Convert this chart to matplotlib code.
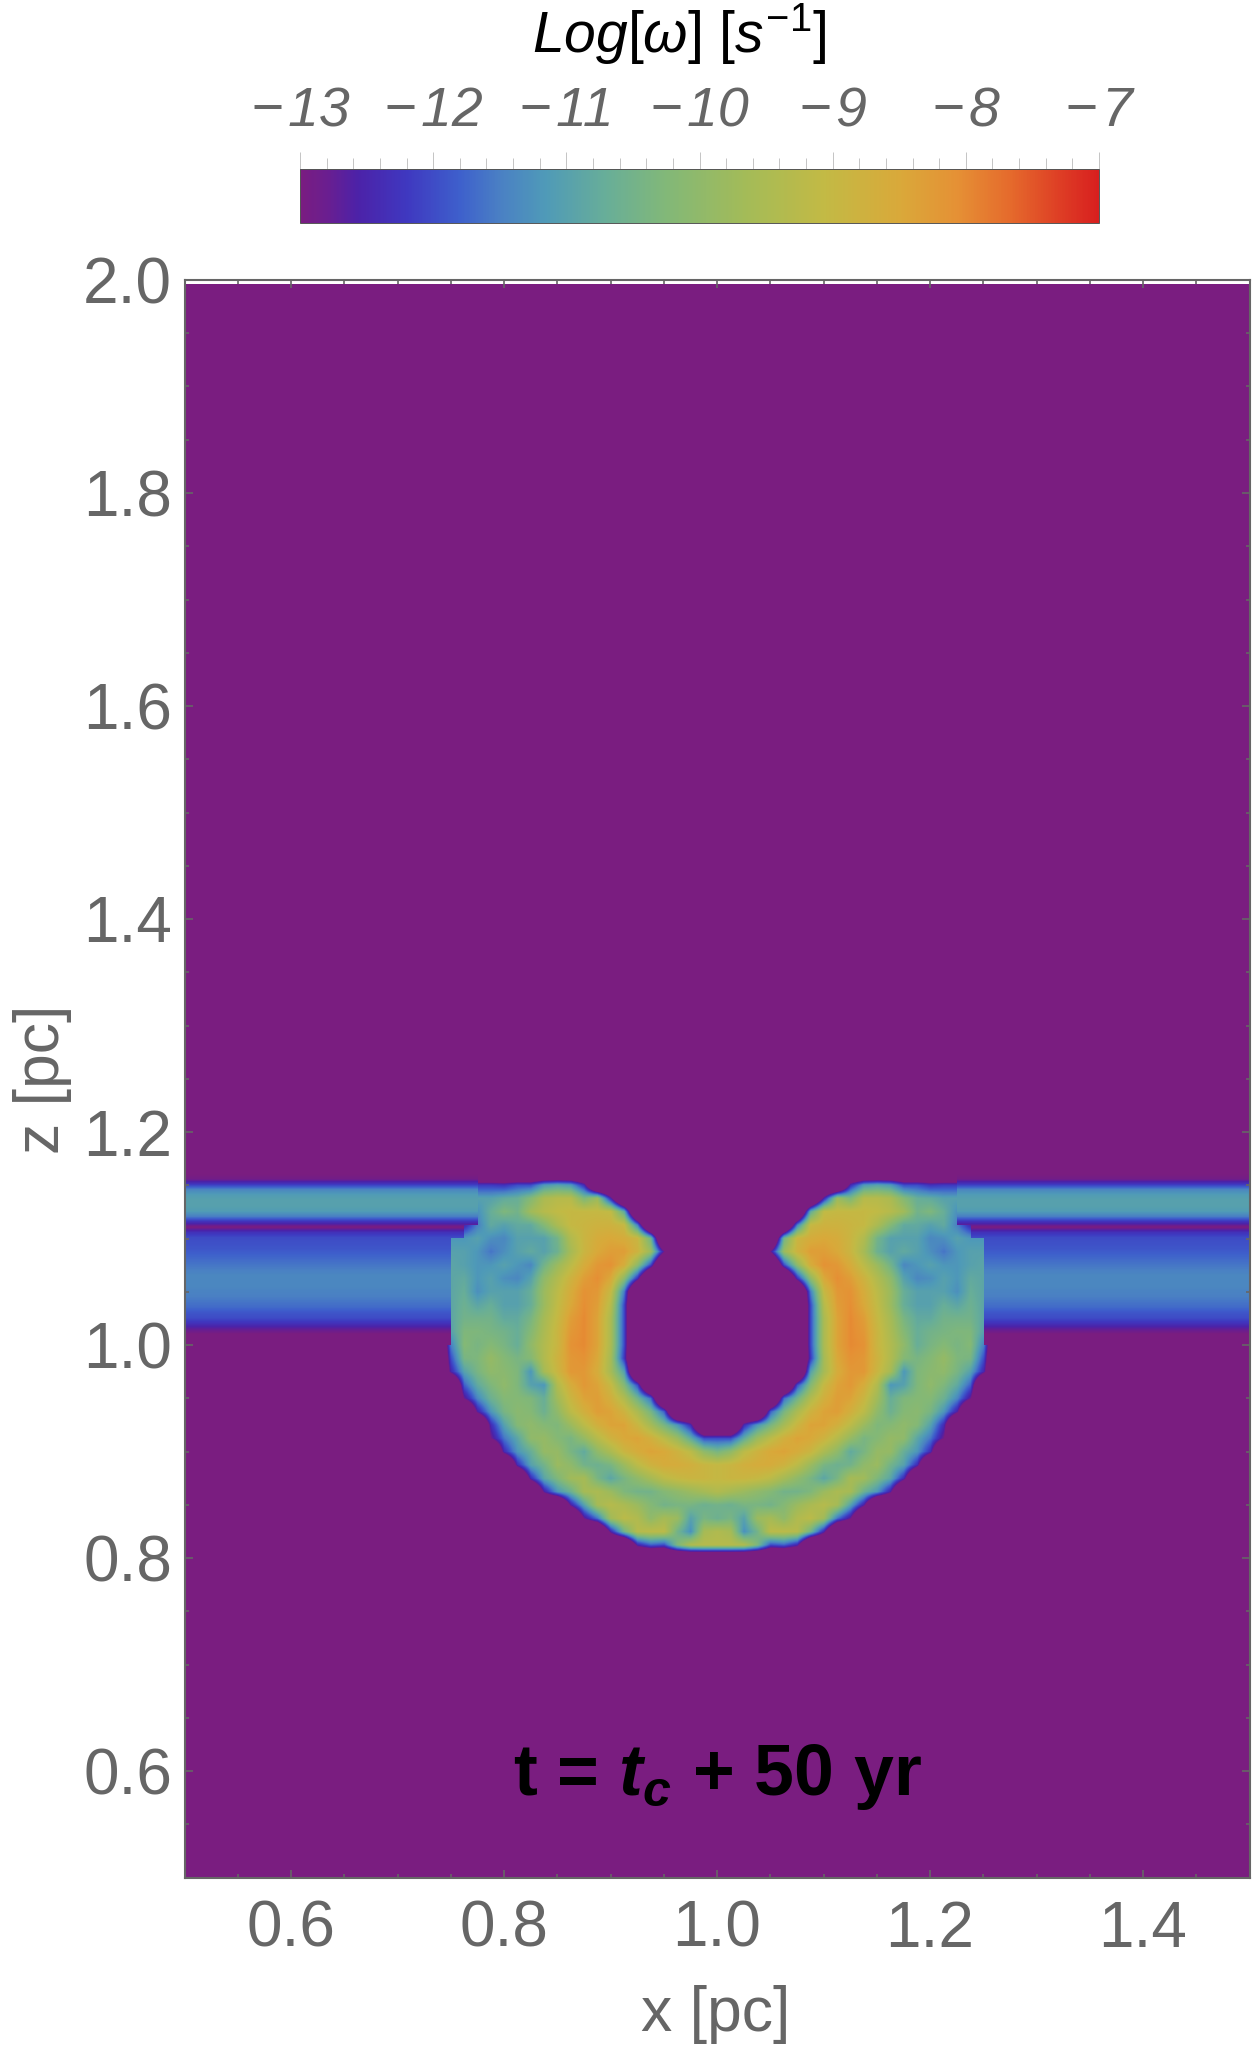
import numpy as np
from matplotlib import pyplot as plt
from matplotlib.colors import LinearSegmentedColormap
from matplotlib.ticker import MultipleLocator, FixedLocator

plt.rcParams['font.family'] = ['Liberation Sans', 'DejaVu Sans']
plt.rcParams['mathtext.fontset'] = 'custom'
plt.rcParams['mathtext.rm'] = 'Liberation Sans'
plt.rcParams['mathtext.it'] = 'Liberation Sans:italic'
plt.rcParams['mathtext.bf'] = 'Liberation Sans:bold'
plt.rcParams['mathtext.bfit'] = 'Liberation Sans:italic:bold'

GRAY = '#666666'
n = np.nan

# colour scale
CMAP_LEVELS = [-13, -12.8, -12.57, -12.2, -11.8, -11.5, -11.16, -10.7, -10.25, -9.66, -9.07, -8.5, -8.07, -7.66, -7.3, -7]
CMAP_COLORS = ['#7a1d80', '#6a1e90', '#4c22a8', '#3f38c0', '#3e60cc', '#4a80c4', '#4f9ab8', '#68ae98', '#82b878',
               '#a3bb58', '#c2ba45', '#d9a93a', '#e59135', '#e56a2c', '#de3f25', '#d81f1f']

# the two horizontal bands
BAND_Z = [1.160, 1.155, 1.150, 1.145, 1.140, 1.135, 1.130, 1.125, 1.120, 1.115, 1.110, 1.105, 1.100, 1.095, 1.090, 1.085,
          1.080, 1.075, 1.070, 1.065, 1.060, 1.055, 1.050, 1.045, 1.040, 1.035, 1.030, 1.025, 1.020, 1.015, 1.010, 1.005]
BAND_LOG_W = [-13, -12.9, -12.2, -11.4, -11.1, -11.0, -11.0, -11.1, -11.5, -12.3, -13, -12.3, -12.0, -11.95, -11.9, -11.8,
              -11.7, -11.6, -11.5, -11.4, -11.4, -11.4, -11.45, -11.5, -11.6, -11.7, -11.9, -12.0, -12.3, -12.7, -13, -13]

# left half of the shell, x = 0.7375 ... 1.0, mirrored about x = 1
SHELL_X_LEFT = [0.7375, 0.75, 0.7625, 0.775, 0.7875, 0.80, 0.8125, 0.825, 0.8375, 0.85, 0.8625,
                0.875, 0.8875, 0.90, 0.9125, 0.925, 0.9375, 0.95, 0.9625, 0.975, 0.9875, 1.0]
SHELL_Z = [1.1625, 1.15, 1.1375, 1.125, 1.1125, 1.10, 1.0875, 1.075, 1.0625, 1.05, 1.0375, 1.025, 1.0125, 1.0, 0.9875,
           0.975, 0.9625, 0.95, 0.9375, 0.925, 0.9125, 0.90, 0.8875, 0.875, 0.8625, 0.85, 0.8375, 0.825, 0.8125, 0.80]
SHELL_LOG_W = [
    [n, n, n, -13, -13, -13, -13, -13, -13, -13, -13, -13, -13, -13, -13, -13, -13, -13, -13, -13, -13, -13],
    [n, n, n, -12.2, -12.2, -12.3, -12, -12, -11.2, -11, -11.2, -12.4, -13, -13, -13, -13, -13, -13, -13, -13, -13, -13],
    [n, n, n, -11, -11, -10.8, -10.7, -10.2, -9.5, -9.3, -9.3, -10.3, -9.8, -12.5, -13, -13, -13, -13, -13, -13, -13, -13],
    [n, n, n, -11.3, -10.7, -10.3, -10.5, -9.7, -9.3, -9.1, -9.0, -9.0, -9.0, -9.1, -10.8, -13, -13, -13, -13, -13, -13, -13],
    [n, n, -12.5, -11.5, -10.8, -11, -10.8, -10.8, -10.2, -9.5, -9.0, -8.9, -8.8, -8.8, -9.0, -11.5, -13, -13, -13, -13, -13, -13],
    [n, -11.2, -11.2, -11, -11.3, -11.4, -11, -11, -11, -10.5, -9.4, -8.9, -8.6, -8.5, -8.6, -8.9, -10.5, -13, -13, -13, -13, -13],
    [n, -11, -11, -11.2, -11.6, -11.3, -11, -10.8, -11, -10.6, -9.6, -8.9, -8.5, -8.3, -8.3, -8.8, -9.8, -12.8, -13, -13, -13, -13],
    [n, -10.9, -11, -11.2, -11.2, -11, -11.2, -11.4, -10.5, -9.8, -9.2, -8.6, -8.2, -8.1, -8.6, -10, -12, -13, -13, -13, -13, -13],
    [n, -10.9, -10.8, -11.2, -11, -11.3, -11.4, -11, -10, -9.4, -8.8, -8.3, -8.05, -8.5, -10, -12.3, -13, -13, -13, -13, -13, -13],
    [n, -10.9, -10.7, -11.3, -11, -11, -11, -10.7, -9.8, -9.2, -8.6, -8.1, -8.2, -9, -11.5, -13, -13, -13, -13, -13, -13, -13],
    [n, -10.9, -10.6, -10.9, -10.7, -11, -11, -10.7, -9.8, -9.1, -8.5, -8.05, -8.3, -9.3, -12, -13, -13, -13, -13, -13, -13, -13],
    [n, -10.9, -10.5, -10.5, -10.5, -10.8, -10.8, -10.4, -9.6, -9.0, -8.3, -8.0, -8.4, -9.5, -12, -13, -13, -13, -13, -13, -13, -13],
    [n, -11, -10.3, -10.3, -10.4, -10.5, -10.7, -10.2, -9.5, -8.9, -8.2, -8.0, -8.4, -9.5, -12, -13, -13, -13, -13, -13, -13, -13],
    [-13, -11.5, -10.2, -10.4, -10.2, -10.4, -10.7, -10, -9.4, -8.9, -8.1, -8.0, -8.4, -9.5, -12, -13, -13, -13, -13, -13, -13, -13],
    [-13, -12, -10.4, -10.3, -9.9, -10.2, -10.4, -10.2, -9.4, -8.8, -8.2, -8.1, -8.5, -9.6, -12.2, -13, -13, -13, -13, -13, -13, -13],
    [-13, -12.5, -11, -10.4, -10, -10.1, -10.3, -11.2, -9.6, -8.9, -8.2, -8.2, -8.6, -9.6, -11, -13, -13, -13, -13, -13, -13, -13],
    [-13, -13, -11.8, -10.8, -10.3, -10, -10.3, -11, -11.2, -9.4, -8.6, -8.2, -8.4, -9, -10.2, -12, -13, -13, -13, -13, -13, -13],
    [-13, -13, -12.8, -11.4, -10.6, -10.2, -10.2, -10.3, -10.7, -9.7, -8.9, -8.4, -8.3, -8.7, -9.4, -10.5, -11.7, -13, -13, -13, -13, -13],
    [-13, -13, -13, -12.6, -11.2, -10.4, -10.1, -10.2, -10.6, -10, -9.2, -8.7, -8.3, -8.4, -8.8, -9.5, -10.4, -11.8, -13, -13, -13, -13],
    [-13, -13, -13, -13, -12.4, -11, -10.2, -10, -10.2, -10.3, -9.8, -9.2, -8.7, -8.4, -8.4, -8.9, -9.6, -10.4, -11.2, -12.4, -13, -13],
    [-13, -13, -13, -13, -12.9, -11.6, -10.9, -10, -9.9, -10.2, -10.4, -9.9, -9.3, -8.8, -8.5, -8.4, -8.7, -9.2, -9.8, -10.8, -12, -12],
    [-13, -13, -13, -13, -13, -12.4, -11.2, -10.7, -9.9, -9.9, -10.4, -10.8, -10, -9.5, -8.9, -8.6, -8.4, -8.5, -8.8, -9.2, -10, -10.4],
    [-13, -13, -13, -13, -13, -13, -12.4, -11, -10.5, -9.8, -10, -10.5, -10.6, -10.4, -9.8, -9.2, -8.8, -8.6, -8.6, -8.7, -8.9, -9.0],
    [-13, -13, -13, -13, -13, -13, -13, -12.4, -10.9, -10.3, -9.7, -9.6, -10.4, -10.9, -10.4, -10, -9.6, -9.2, -9.0, -8.9, -8.9, -9.0],
    [-13, -13, -13, -13, -13, -13, -13, -13, -12.6, -11.2, -10.6, -9.6, -9.5, -9.8, -10.3, -10.5, -10.5, -10.2, -10, -9.8, -9.6, -9.4],
    [-13, -13, -13, -13, -13, -13, -13, -13, -13, -13, -12.6, -11, -9.6, -9.3, -9.5, -9.8, -10.2, -10.5, -10.4, -10.4, -10.6, -10.5],
    [-13, -13, -13, -13, -13, -13, -13, -13, -13, -13, -13, -12.8, -11.6, -9.7, -9.2, -9.4, -10, -9.6, -9.8, -11, -10.4, -10.6],
    [-13, -13, -13, -13, -13, -13, -13, -13, -13, -13, -13, -13, -13, -12.5, -10.5, -9.3, -9.2, -9.2, -10.5, -11.3, -9.6, -9.4],
    [-13, -13, -13, -13, -13, -13, -13, -13, -13, -13, -13, -13, -13, -13, -13, -12.5, -11.8, -12, -10.3, -9.4, -9.3, -9.3],
    [-13, -13, -13, -13, -13, -13, -13, -13, -13, -13, -13, -13, -13, -13, -13, -13, -13, -13, -13, -13, -13, -13],
]
# cells below the scale, so the shell keeps a thin rim when interpolated
OUTSIDE_LOG_W = -16

BACKGROUND_LOG_W = [[-13, -13], [-13, -13]]
CBAR_TICKS = [-13, -12, -11, -10, -9, -8, -7]
CBAR_LABELS = ['\u2212\u200a13', '\u2212\u200a12', '\u2212\u200a11', '\u2212\u200a10', '\u2212\u200a9', '\u2212\u200a8', '\u2212\u200a7']
X_TICKS = [0.6, 0.8, 1.0, 1.2, 1.4]
Z_TICKS = [0.6, 0.8, 1.0, 1.2, 1.4, 1.6, 1.8, 2.0]

cmap = LinearSegmentedColormap.from_list('rainbow_m', [((l + 13) / 6, c) for l, c in zip(CMAP_LEVELS, CMAP_COLORS)], N=512)
W, H = 1252, 2046

fig = plt.figure(figsize=(W / 100, H / 100), dpi=100)
ax = fig.add_axes([184.5 / W, (H - 1877.5) / H, 1065 / W, 1597.5 / H])

im = ax.imshow(BACKGROUND_LOG_W, extent=(0.5, 1.5, 0.5, 1.9953), cmap=cmap, vmin=-13, vmax=-7, aspect='auto')

band = np.tile(np.array(BAND_LOG_W)[:, None], (1, 2))
dz = 0.0025
ax.imshow(band, extent=(0.5, 1.5, BAND_Z[-1] - dz, BAND_Z[0] + dz), cmap=cmap, vmin=-13, vmax=-7,
          aspect='auto', interpolation='bilinear')

left = np.array(SHELL_LOG_W, dtype=float)
left[left <= -13] = OUTSIDE_LOG_W
shell = np.ma.masked_invalid(np.hstack([left, left[:, -2::-1]]))
half = 0.00625
ax.imshow(shell, extent=(SHELL_X_LEFT[0] - half, 2 - SHELL_X_LEFT[0] + half, SHELL_Z[-1] - half, SHELL_Z[0] + half),
          cmap=cmap, vmin=-13, vmax=-7, aspect='auto', interpolation='bilinear')

ax.set_xlim(0.5, 1.5)
ax.set_ylim(0.5, 2.0)
ax.set_xticks(X_TICKS)
ax.set_yticks(Z_TICKS)
ax.set_xticklabels(['%.1f' % v for v in X_TICKS])
ax.set_yticklabels(['%.1f' % v for v in Z_TICKS])
ax.xaxis.set_minor_locator(MultipleLocator(0.05))
ax.yaxis.set_minor_locator(MultipleLocator(0.05))
ax.tick_params(which='both', direction='in', top=True, right=True, color=GRAY, width=1.2)
ax.tick_params(which='major', length=6)
ax.tick_params(which='minor', length=3)
ax.tick_params(axis='x', which='major', labelsize=46, labelcolor=GRAY, pad=16)
ax.tick_params(axis='y', which='major', labelsize=46, labelcolor=GRAY, pad=9)
for s in ax.spines.values():
    s.set_color(GRAY)
    s.set_linewidth(1.5)

fig.text(716 / W, 1 - 2015 / H, 'x [pc]', fontsize=45, color=GRAY, ha='center', va='center')
fig.text(43 / W, 1 - 1079 / H, 'z [pc]', fontsize=45, color=GRAY, ha='center', va='center', rotation=90)

ax.text(1.0, 0.5774, r't = $\mathbfit{t}_{\mathbfit{c}}$ + 50 yr', fontsize=51.5, fontweight='bold',
        color='black', ha='center', va='baseline')

cax = fig.add_axes([300 / W, (H - 223) / H, 799 / W, 54 / H])
cb = fig.colorbar(im, cax=cax, orientation='horizontal')
cb.set_ticks(CBAR_TICKS)
cb.set_ticklabels(CBAR_LABELS)
cax.xaxis.set_ticks_position('top')
cax.xaxis.set_minor_locator(FixedLocator(np.arange(-13, -6.9, 0.2)))
cax.tick_params(which='major', direction='out', length=12, width=0.7, color='#c4c4c4', labelsize=40, labelcolor=GRAY, pad=10)
cax.tick_params(which='minor', direction='out', length=8, width=0.7, color='#c4c4c4')
for label in cax.get_xticklabels():
    label.set_fontstyle('italic')
cb.outline.set_edgecolor('#555555')
cb.outline.set_linewidth(0.7)

fig.text(679 / W, 1 - 52 / H, r'$\mathit{Log}[\omega]\ [s^{-\mathit{1}}]$', fontsize=41, color='black', ha='center', va='baseline')

fig.savefig('out.png', dpi=100)
